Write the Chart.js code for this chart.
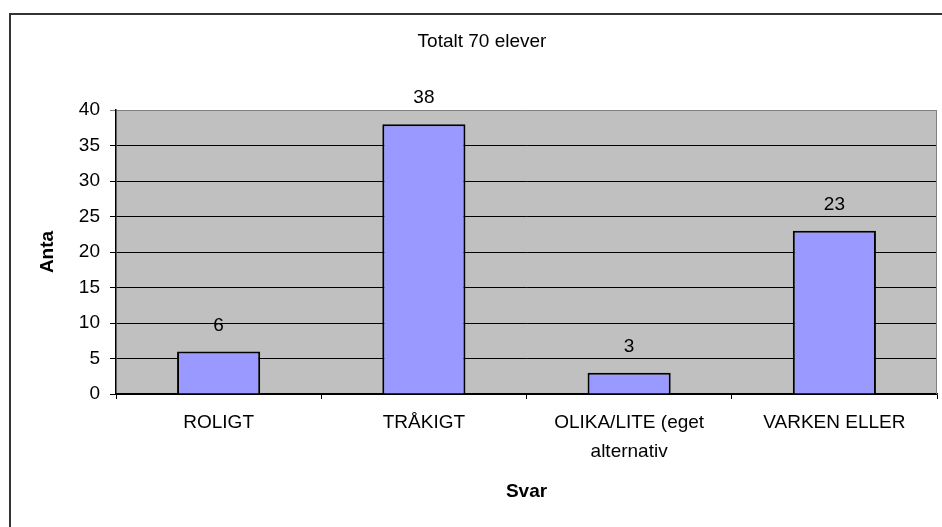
<!DOCTYPE html>
<html>
<head>
<meta charset="utf-8">
<script src="https://cdn.jsdelivr.net/npm/chart.js@4"></script>
<style>
  body { margin: 0; background: #fff; overflow: hidden; }
  #frame { position: absolute; left: 9px; top: 13px; width: 1000px; height: 1000px;
           border-left: 2px solid #333; border-top: 2px solid #333; }
  #chart { position: absolute; left: 0; top: 0; }
</style>
</head>
<body>
<div id="frame"></div>
<canvas id="chart" width="942" height="527"></canvas>
<script>
// chart data
const categories = ["ROLIGT", "TRÅKIGT", ["OLIKA/LITE (eget", "alternativ"], "VARKEN ELLER"];
const answers = [6, 38, 3, 23];
const chartTitle = "Totalt 70 elever";
const yTitle = "Anta";
const xTitle = "Svar";

const fontFamily = "'Liberation Sans', Arial, sans-serif";

// gray plot background + right border
const plotBackground = {
    id: "plotBackground",
    beforeDraw(chart) {
        const a = chart.chartArea;
        const ctx = chart.ctx;
        ctx.save();
        ctx.fillStyle = "#c0c0c0";
        ctx.fillRect(a.left, a.top, a.right - a.left, a.bottom - a.top);
        ctx.restore();
    },
    afterDraw(chart) {
        const a = chart.chartArea;
        const ctx = chart.ctx;
        ctx.save();
        ctx.strokeStyle = "#808080";
        ctx.lineWidth = 1;
        ctx.beginPath();
        ctx.moveTo(a.right - 0.5, a.top);
        ctx.lineTo(a.right - 0.5, a.bottom);
        ctx.stroke();
        // title
        ctx.fillStyle = "#000";
        ctx.font = "19px " + fontFamily;
        ctx.textAlign = "center";
        ctx.textBaseline = "middle";
        ctx.fillText(chartTitle, 482, 42);
        ctx.restore();
    }
};

// value labels above bars
const valueLabels = {
    id: "valueLabels",
    afterDatasetsDraw(chart) {
        const ctx = chart.ctx;
        const meta = chart.getDatasetMeta(0);
        ctx.save();
        ctx.fillStyle = "#000";
        ctx.font = "19px " + fontFamily;
        ctx.textAlign = "center";
        ctx.textBaseline = "middle";
        meta.data.forEach((bar, i) => {
            ctx.fillText(String(answers[i]), bar.x, bar.y - 26);
        });
        ctx.restore();
    }
};

new Chart(document.getElementById("chart"), {
    type: "bar",
    data: {
        labels: categories,
        datasets: [{
            data: answers,
            backgroundColor: "#9999ff",
            borderColor: "#000",
            borderWidth: 2,
            barPercentage: 0.405,
            categoryPercentage: 1
        }]
    },
    options: {
        responsive: false,
        animation: false,
        layout: { padding: { left: 0, top: 110, right: 5, bottom: 0 } },
        plugins: {
            legend: { display: false },
            tooltip: { enabled: false }
        },
        scales: {
            x: {
                afterFit(scale) { scale.height = 133; },
                grid: {
                    offset: true,
                    drawOnChartArea: false,
                    drawTicks: true,
                    tickLength: 5,
                    color: "#000"
                },
                border: { color: "#000", width: 1.5 },
                ticks: {
                    color: "#000",
                    padding: 9.5,
                    maxRotation: 0,
                    autoSkip: false,
                    font: { family: fontFamily, size: 19, lineHeight: "29px" }
                },
                title: {
                    display: true,
                    text: xTitle,
                    color: "#000",
                    padding: { top: 0, bottom: 24 },
                    font: { family: fontFamily, size: 19, weight: "bold" }
                }
            },
            y: {
                min: 0,
                max: 40,
                afterFit(scale) { scale.width = 116; },
                grid: {
                    tickLength: 6,
                    lineWidth: 1,
                    color: ctx => (ctx.tick && ctx.tick.value === 40) ? "#808080" : "#000"
                },
                border: { color: "#000", width: 1.5 },
                ticks: {
                    stepSize: 5,
                    color: "#000",
                    padding: 10,
                    font: { family: fontFamily, size: 19 }
                },
                title: {
                    display: true,
                    text: yTitle,
                    color: "#000",
                    padding: { top: 36, bottom: 0 },
                    font: { family: fontFamily, size: 19, weight: "bold" }
                }
            }
        }
    },
    plugins: [plotBackground, valueLabels]
});
</script>
</body>
</html>
